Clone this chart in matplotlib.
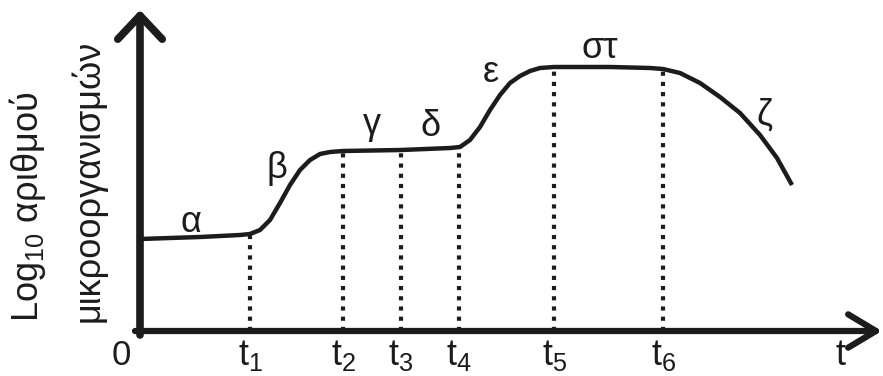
import matplotlib
matplotlib.use('Agg')
import matplotlib.pyplot as plt

plt.rcParams['font.family'] = ['Liberation Sans', 'DejaVu Sans']
plt.rcParams['mathtext.fontset'] = 'custom'
plt.rcParams['mathtext.rm'] = 'Liberation Sans'
plt.rcParams['mathtext.it'] = 'Liberation Sans'

# growth curve (time, log10 count)
curve_t = [0, 6, 10, 11, 12, 13, 14, 15, 16, 17, 18, 19, 20.3, 26.1, 31, 32, 33, 34, 35,
           36, 37, 38, 39, 40, 41.4, 47, 51, 52.3, 54, 56, 58, 60, 62, 63.7, 65.2]
curve_log = [9.2, 9.4, 9.6, 9.7, 10.1, 11.1, 12.8, 14.6, 16.1, 17.1, 17.7, 17.9, 18.0, 18.1,
             18.3, 18.4, 19.1, 20.4, 22.1, 23.6, 24.8, 25.5, 26.0, 26.3, 26.4, 26.4, 26.3,
             26.2, 25.8, 24.8, 23.4, 21.8, 19.6, 17.3, 14.6]

# time marks and the curve height at each
mark_t = [11, 20.3, 26.1, 31.9, 41.4, 52.3]
mark_log = [9.7, 18.0, 18.1, 18.3, 26.4, 26.2]
mark_labels = ['$t_1$', '$t_2$', '$t_3$', '$t_4$', '$t_5$', '$t_6$']

# phase letters
phase_names = ['α', 'β', 'γ', 'δ', 'ε', 'στ', 'ζ']
phase_t = [5.1, 13.7, 23.2, 29.1, 35.1, 46.0, 62.4]
phase_log = [10.9, 16.2, 20.6, 20.4, 25.9, 28.2, 21.6]

ink = '#1c1c1c'

fig = plt.figure(figsize=(8.83, 3.76), dpi=100)
ax = fig.add_axes([0, 0, 1, 1])
ax.set_xlim(-14, 74.3)
ax.set_ylim(-4.5, 33.1)
ax.axis('off')

# axes with open arrow heads
ax.annotate('', xy=(0, 32.1), xytext=(0, -0.4),
            arrowprops=dict(arrowstyle='->,head_length=17,head_width=16', lw=5.5,
                            color=ink, mutation_scale=1, shrinkA=0, shrinkB=0))
ax.annotate('', xy=(74.2, 0), xytext=(-0.5, 0),
            arrowprops=dict(arrowstyle='->,head_length=20,head_width=12', lw=4.5,
                            color=ink, mutation_scale=1, shrinkA=0, shrinkB=0))

ax.vlines(mark_t, 0, mark_log, colors=ink, linewidth=3, linestyles=(0, (1, 1.45)))
ax.plot(curve_t, curve_log, color=ink, lw=3.2, solid_joinstyle='round', solid_capstyle='butt')

for name, x, y in zip(phase_names, phase_t, phase_log):
    ax.text(x, y, name, fontsize=26, ha='center', va='center', color=ink)

for lab, x in zip(mark_labels, mark_t):
    ax.text(x, -3.4, lab, fontsize=26, ha='center', va='baseline', color=ink)
ax.text(-1.9, -3.4, '0', fontsize=25, ha='center', va='baseline', color=ink)
ax.text(70.0, -3.4, 't', fontsize=26, ha='center', va='baseline', color=ink)

ax.text(-11.2, 0.9, 'Log$_{10}$ αριθμού', fontsize=26, rotation=90,
        ha='center', va='bottom', color=ink)
ax.text(-5.2, 0.9, 'μικροοργανισμών', fontsize=26, rotation=90,
        ha='center', va='bottom', color=ink)

fig.savefig('out.png', dpi=100)
